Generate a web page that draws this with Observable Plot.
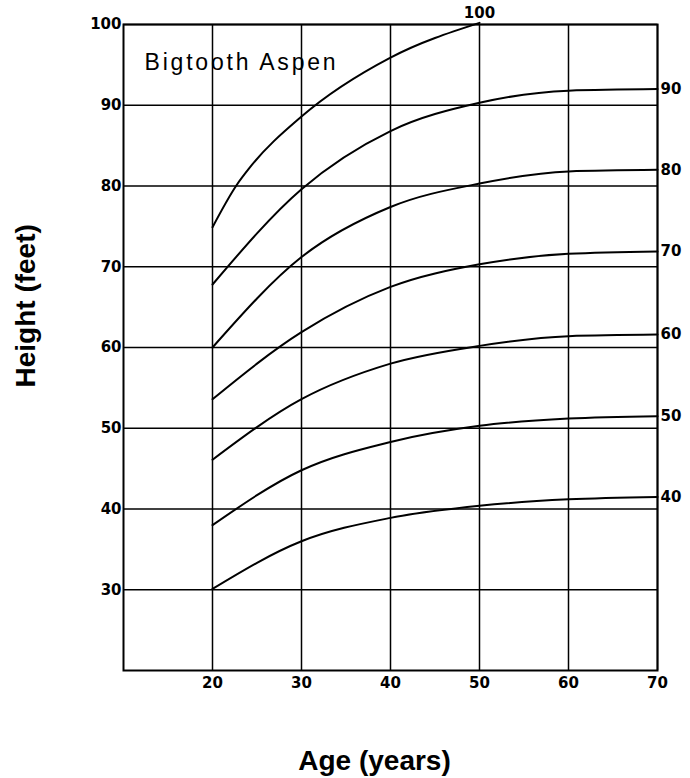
<!DOCTYPE html>
<html>
<head>
<meta charset="utf-8">
<script src="https://cdn.jsdelivr.net/npm/d3@7"></script>
<script src="https://cdn.jsdelivr.net/npm/@observablehq/plot@0.6"></script>
<style>
  html, body { margin: 0; padding: 0; background: #fff; }
  #chart svg { display: block; }
</style>
</head>
<body>
<div id="chart"></div>
<script>
// ---- Data ----
const title = "Bigtooth Aspen";
const xLabel = "Age (years)";
const yLabel = "Height (feet)";

const xTicks = [20, 30, 40, 50, 60, 70];
const yTicks = [30, 40, 50, 60, 70, 80, 90, 100];
const xGrid = [20, 30, 40, 50, 60, 70];
const yGrid = [30, 40, 50, 60, 70, 80, 90, 100];

const siteIndex = [40, 50, 60, 70, 80, 90];
const ages = [20, 30, 40, 50, 60, 70];
const h40 = [30.1, 36.0, 38.9, 40.4, 41.2, 41.5];
const h50 = [38.0, 44.8, 48.3, 50.3, 51.2, 51.5];
const h60 = [46.1, 53.6, 58.0, 60.2, 61.4, 61.6];
const h70 = [53.6, 61.9, 67.5, 70.3, 71.6, 71.9];
const h80 = [60.0, 71.2, 77.4, 80.3, 81.8, 82.0];
const h90 = [67.8, 79.6, 86.8, 90.3, 91.8, 92.0];

// Site index 100 curve ends at age 50
const ages100 = [20, 22.7, 24.2, 30, 40, 50];
const h100 = [74.9, 80.1, 82.3, 88.6, 95.9, 100.2];

// ---- Build table ----
const heights = [h40, h50, h60, h70, h80, h90];
const rows = [];
siteIndex.forEach((s, i) => {
  ages.forEach((a, j) => rows.push({site: s, age: a, height: heights[i][j]}));
});
ages100.forEach((a, j) => rows.push({site: 100, age: a, height: h100[j]}));

const endLabels = siteIndex.map((s, i) => ({site: s, age: ages[ages.length - 1], height: heights[i][heights[i].length - 1]}));
const topLabel = [{site: 100, age: ages100[ages100.length - 1], height: h100[h100.length - 1]}];

const plot = Plot.plot({
  width: 690,
  height: 778,
  marginLeft: 123,
  marginRight: 33,
  marginTop: 24,
  marginBottom: 108,
  style: {fontFamily: "'DejaVu Sans', sans-serif", fontSize: "15px", fontWeight: "bold", color: "#000", background: "#fff"},
  x: {domain: [10, 70]},
  y: {domain: [20, 100]},
  marks: [
    Plot.ruleY(yGrid, {stroke: "#000", strokeWidth: 1.5}),
    Plot.ruleX(xGrid, {stroke: "#000", strokeWidth: 1.5}),
    Plot.frame({stroke: "#000", strokeWidth: 2}),
    Plot.line(rows, {x: "age", y: "height", z: "site", curve: "monotone-x", stroke: "#000", strokeWidth: 2}),
    Plot.axisX(xTicks, {tickSize: 0, tickPadding: 7, label: null, fontSize: 15, fontWeight: "bold"}),
    Plot.axisY(yTicks, {tickSize: 0, tickPadding: 2, label: null, fontSize: 15, fontWeight: "bold"}),
    Plot.text(endLabels, {x: "age", y: "height", text: d => String(d.site), textAnchor: "start", dx: 3, fontSize: 15, fontWeight: "bold"}),
    Plot.text(topLabel, {x: "age", y: "height", text: d => String(d.site), textAnchor: "middle", dy: -10, fontSize: 15, fontWeight: "bold"}),
    Plot.text([title], {frameAnchor: "top-left", dx: 21, dy: 29, lineAnchor: "top", textAnchor: "start", fontFamily: "'Liberation Sans', Arial, sans-serif", fontWeight: "normal", fontSize: 23}),
    Plot.text([xLabel], {frameAnchor: "bottom", dx: -16, dy: 99, lineAnchor: "bottom", fontFamily: "'Liberation Sans', Arial, sans-serif", fontWeight: "bold", fontSize: 28}),
    Plot.text([yLabel], {frameAnchor: "left", rotate: -90, dx: -108, dy: 40, lineAnchor: "top", textAnchor: "start", fontFamily: "'Liberation Sans', Arial, sans-serif", fontWeight: "bold", fontSize: 28})
  ]
});
// widen the title's letter spacing as in the reference
d3.select(plot).selectAll("text").filter(function () { return this.textContent === title; }).style("letter-spacing", "2.8px");
document.getElementById("chart").append(plot);
</script>
</body>
</html>
